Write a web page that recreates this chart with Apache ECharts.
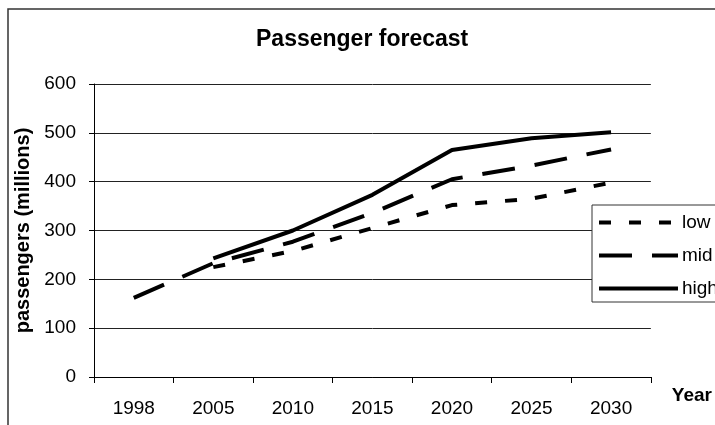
<!DOCTYPE html>
<html>
<head>
<meta charset="utf-8">
<script src="https://cdn.jsdelivr.net/npm/echarts@6/dist/echarts.min.js"></script>
<style>html,body{margin:0;padding:0;background:#fff;}#c{width:715px;height:425px;}</style>
</head>
<body>
<div id="c"></div>
<script>
const categories = ['1998', '2005', '2010', '2015', '2020', '2025', '2030'];
const lowValues = [null, 225, 258, 305, 352, 365, 398];
const midValues = [162, 233, 277, 336, 405, 433, 466];
const highValues = [null, 243, 300, 373, 465, 489, 501];
const seriesNames = ['low', 'mid', 'high'];
const yTicks = [0, 100, 200, 300, 400, 500, 600];

const font = 'Liberation Sans, Arial, sans-serif';
const chart = echarts.init(document.getElementById('c'), null, {renderer: 'canvas'});
chart.setOption({
  animation: false,
  backgroundColor: '#fff',
  graphic: [{
    type: 'rect', z: -1, silent: true,
    shape: {x: 8, y: 9, width: 800, height: 500},
    style: {fill: 'none', stroke: '#333', lineWidth: 1.5}
  }],
  title: {
    text: 'Passenger forecast',
    left: 251, top: 23,
    textStyle: {fontFamily: font, fontSize: 23, fontWeight: 'bold', color: '#000'}
  },
  grid: {left: 94, right: 56, top: 84, bottom: 48},
  legend: {
    orient: 'vertical', left: 592, top: 205,
    padding: [8, 40, 4, 5],
    itemWidth: 79, itemHeight: 14, itemGap: 14,
    backgroundColor: '#fff', borderColor: '#333', borderWidth: 1,
    borderRadius: 0,
    itemStyle: {opacity: 0},
    lineStyle: {width: 4},
    textStyle: {fontFamily: font, fontSize: 19, color: '#000', padding: [0, 0, 0, -1]},
    data: seriesNames
  },
  xAxis: {
    type: 'category', data: categories, boundaryGap: true,
    name: 'Year', nameLocation: 'end', nameGap: 21,
    nameTextStyle: {fontFamily: font, fontSize: 19, fontWeight: 'bold', color: '#000', verticalAlign: 'top', padding: [9, 0, 0, 0]},
    axisLine: {lineStyle: {color: '#000', width: 1}},
    axisTick: {show: true, alignWithLabel: false, length: 6, lineStyle: {color: '#000'}},
    axisLabel: {fontFamily: font, fontSize: 19, color: '#000', margin: 22},
    splitLine: {show: false}
  },
  yAxis: {
    type: 'value', min: 0, max: 600, interval: 100,
    name: 'passengers (millions)', nameLocation: 'middle', nameGap: 58,
    nameTextStyle: {fontFamily: font, fontSize: 20, fontWeight: 'bold', color: '#000'},
    axisLine: {show: true, lineStyle: {color: '#000', width: 1}},
    axisTick: {show: true, length: 5, lineStyle: {color: '#000'}},
    axisLabel: {fontFamily: font, fontSize: 19, color: '#000', margin: 18,
      formatter: v => yTicks.includes(v) ? String(v) : ''},
    splitLine: {show: true, lineStyle: {color: '#222', width: 1}}
  },
  series: [
    {name: 'low', type: 'line', data: lowValues, symbol: 'none', connectNulls: false,
     lineStyle: {color: '#000', width: 4, type: [12, 18], cap: 'butt'}, itemStyle: {color: '#000'}},
    {name: 'mid', type: 'line', data: midValues, symbol: 'none',
     lineStyle: {color: '#000', width: 4, type: [33, 20], cap: 'butt'}, itemStyle: {color: '#000'}},
    {name: 'high', type: 'line', data: highValues, symbol: 'none',
     lineStyle: {color: '#000', width: 4, type: 'solid', cap: 'butt'}, itemStyle: {color: '#000'}}
  ]
});
</script>
</body>
</html>
